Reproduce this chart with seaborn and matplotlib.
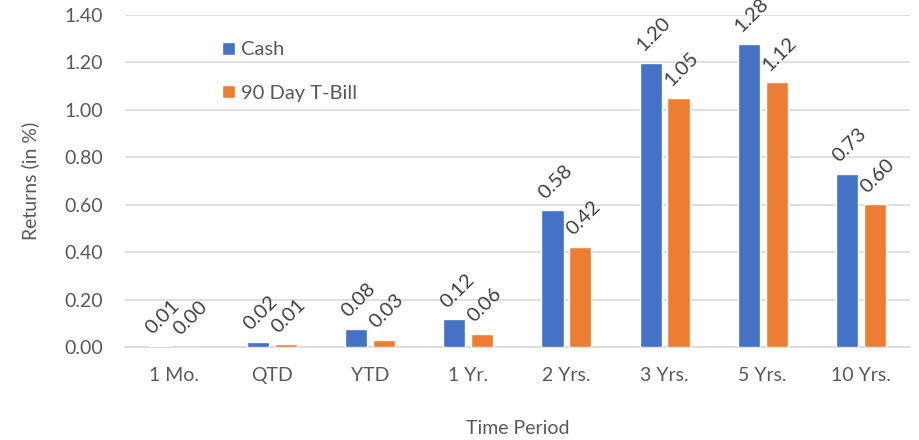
import pandas as pd
import matplotlib.pyplot as plt
import seaborn as sns

periods = ["1 Mo.", "QTD", "YTD", "1 Yr.", "2 Yrs.", "3 Yrs.", "5 Yrs.", "10 Yrs."]
cash = [0.006, 0.022, 0.078, 0.118, 0.577, 1.198, 1.278, 0.731]
tbill = [0.002, 0.012, 0.031, 0.057, 0.423, 1.051, 1.117, 0.603]
series_names = ["Cash", "90 Day T-Bill"]
colors = ["#4472C4", "#ED7D31"]

df = pd.DataFrame({
    "Time Period": periods * 2,
    "Returns": cash + tbill,
    "Series": [series_names[0]] * len(periods) + [series_names[1]] * len(periods),
})

sns.set_style("white")
plt.rcParams["font.family"] = ["Lato", "DejaVu Sans"]
text_color = "#595959"

fig = plt.figure(figsize=(9.19, 4.40), dpi=100)
ax = fig.add_axes([0.136, 0.211, 0.854, 0.755])

sns.barplot(data=df, x="Time Period", y="Returns", hue="Series",
            palette=colors, saturation=1, width=0.57, gap=0.21, ax=ax, zorder=3)

# rotated value labels above each bar
for container in ax.containers:
    for bar in container:
        h = bar.get_height()
        ax.annotate(f"{h:.2f}", (bar.get_x() + bar.get_width() / 2, h),
                    xytext=(2, 6), textcoords="offset points",
                    rotation=45, ha="center", va="bottom",
                    fontsize=14.5, color="#404040")

ax.set_ylim(0, 1.40)
ax.set_yticks([0.0, 0.2, 0.4, 0.6, 0.8, 1.0, 1.2, 1.4])
ax.set_yticklabels([f"{v:.2f}" for v in ax.get_yticks()])
ax.yaxis.grid(True, color="#D9D9D9", linewidth=1.2, zorder=0)
ax.set_axisbelow(True)
for s in ["top", "right", "left"]:
    ax.spines[s].set_visible(False)
ax.spines["bottom"].set_color("#D9D9D9")
ax.spines["bottom"].set_linewidth(1.2)
ax.tick_params(axis="y", length=0, labelsize=14, labelcolor=text_color, pad=16)
ax.tick_params(axis="x", length=0, labelsize=14, labelcolor=text_color, pad=14)

ax.set_xlabel("Time Period", fontsize=14, color=text_color, labelpad=26)
ax.set_ylabel("Returns (in %)", fontsize=14, color=text_color, labelpad=18)

handles, labels = ax.get_legend_handles_labels()
ax.legend(handles, labels, loc="upper left", bbox_to_anchor=(0.1, 0.975),
          frameon=False, fontsize=14.5, labelcolor=text_color,
          handlelength=0.65, handleheight=0.65, handletextpad=0.3, labelspacing=1.3)

plt.savefig("out.png", dpi=100)
plt.close()
